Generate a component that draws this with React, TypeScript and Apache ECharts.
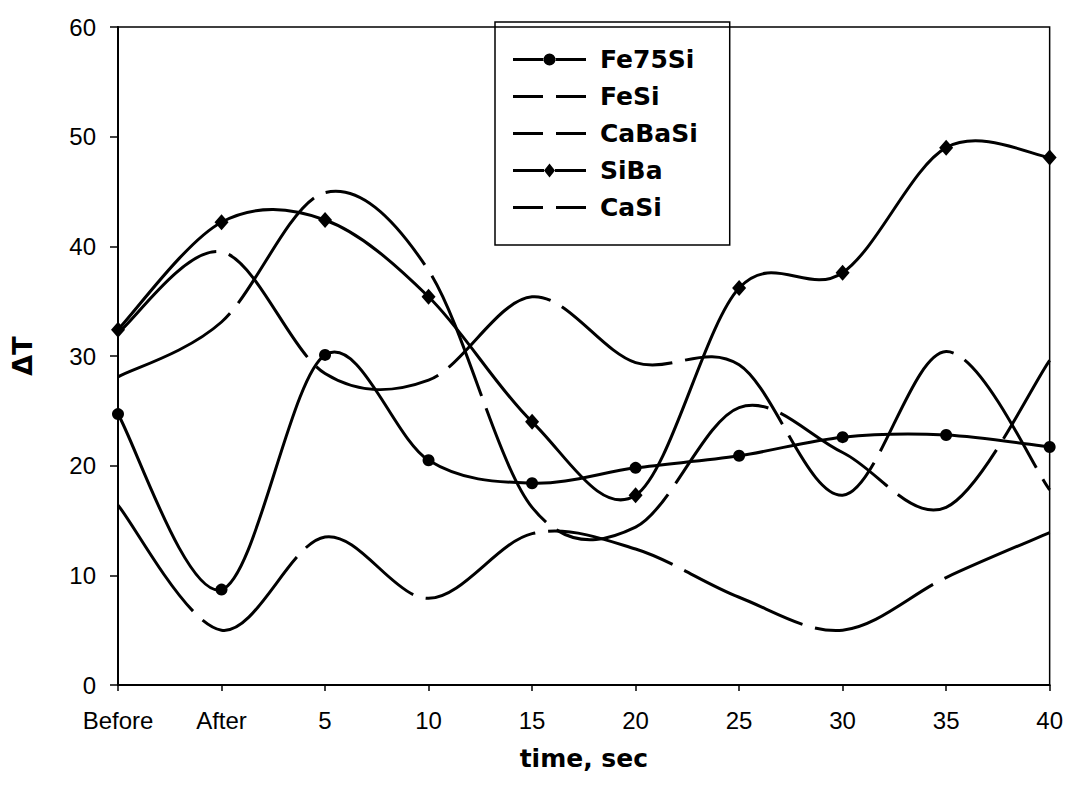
import React, { useEffect, useRef } from "react";
import * as echarts from "echarts";

const categories = ["Before", "After", "5", "10", "15", "20", "25", "30", "35", "40"];
const fe75si = [24.7, 8.7, 30.1, 20.5, 18.4, 19.8, 20.9, 22.6, 22.8, 21.7];
const fesi = [32.1, 39.5, 28.4, 27.8, 35.4, 29.4, 29.2, 17.3, 30.4, 17.8];
const cabasi = [28.1, 33.1, 44.9, 37.8, 16.2, 14.4, 25.3, 21.2, 16.2, 29.6];
const siba = [32.4, 42.2, 42.4, 35.4, 24.0, 17.3, 36.2, 37.6, 49.0, 48.1];
const casi = [16.4, 5.0, 13.5, 7.9, 13.8, 12.4, 8.0, 5.0, 9.8, 13.9];
const yTicks = { min: 0, max: 60, interval: 10 };

const ICON_DASH = "path://M0 0H30V3H0Z M43 0H73V3H43Z";
const ICON_CIRCLE =
  "path://M0 5.5H31V8.5H0Z M42 5.5H73V8.5H42Z M30.5 7A6 6 0 1 0 42.5 7A6 6 0 1 0 30.5 7Z";
const ICON_DIAMOND =
  "path://M0 5.5H31V8.5H0Z M42 5.5H73V8.5H42Z M36.5 0L42 7L36.5 14L31 7Z";

export default function App() {
  const ref = useRef<HTMLDivElement>(null);
  useEffect(() => {
    if (!ref.current) return;
    const chart = echarts.init(ref.current, null, { renderer: "svg" });
    const black = "#000";

    // Catmull-Rom style smooth curve drawn through the data points via the axis scales
    const curve = (data: number[], dashed: boolean) => ({
      type: "custom",
      data: data.map((v, i) => [i, v]),
      encode: { x: 0, y: 1 },
      silent: true,
      z: 2,
      renderItem: (params: any, api: any) => {
        if (params.dataIndex !== 0) return null;
        const pts = data.map((v, i) => api.coord([i, v]));
        const n = pts.length;
        let d = `M${pts[0][0]} ${pts[0][1]}`;
        for (let i = 0; i < n - 1; i++) {
          const p0 = pts[Math.max(i - 1, 0)];
          const p1 = pts[i];
          const p2 = pts[i + 1];
          const p3 = pts[Math.min(i + 2, n - 1)];
          const c1x = p1[0] + (p2[0] - p0[0]) / 6;
          const c1y = p1[1] + (p2[1] - p0[1]) / 6;
          const c2x = p2[0] - (p3[0] - p1[0]) / 6;
          const c2y = p2[1] - (p3[1] - p1[1]) / 6;
          d += ` C${c1x} ${c1y} ${c2x} ${c2y} ${p2[0]} ${p2[1]}`;
        }
        return {
          type: "path",
          shape: { pathData: d },
          style: {
            fill: "none",
            stroke: black,
            lineWidth: 3,
            lineDash: dashed ? [130, 13] : null,
          },
        };
      },
    });

    const marks = (name: string, data: number[], symbol: string, size: any) => ({
      name,
      type: "line",
      data,
      symbol,
      symbolSize: size,
      showSymbol: symbol !== "none",
      z: 3,
      lineStyle: { color: black, width: 0, opacity: 0 },
      itemStyle: { color: black, borderWidth: 0 },
    });

    chart.setOption({
      animation: false,
      backgroundColor: "#fff",
      grid: {
        left: 118,
        right: 16,
        top: 27,
        bottom: 100,
        show: true,
        borderColor: black,
        borderWidth: 1.5,
        backgroundColor: "transparent",
      },
      legend: {
        orient: "vertical",
        left: 495,
        top: 22,
        padding: [25, 32, 25, 18],
        itemWidth: 73,
        itemHeight: 14,
        itemGap: 12,
        borderColor: black,
        borderWidth: 1.5,
        textStyle: {
          color: black,
          fontFamily: "DejaVu Sans",
          fontWeight: "bold",
          fontSize: 25,
          padding: [0, 0, 0, 9],
        },
        data: [
          { name: "Fe75Si", icon: ICON_CIRCLE },
          { name: "FeSi", icon: ICON_DASH },
          { name: "CaBaSi", icon: ICON_DASH },
          { name: "SiBa", icon: ICON_DIAMOND },
          { name: "CaSi", icon: ICON_DASH },
        ],
      },
      xAxis: {
        type: "category",
        data: categories,
        boundaryGap: false,
        axisLine: { lineStyle: { color: black, width: 2 } },
        axisTick: { show: true, inside: false, length: 6, lineStyle: { color: black, width: 1.5 } },
        axisLabel: {
          color: black,
          fontFamily: "Liberation Sans",
          fontSize: 24,
          margin: 23,
        },
        name: "time, sec",
        nameLocation: "middle",
        nameGap: 61,
        nameTextStyle: {
          color: black,
          fontFamily: "DejaVu Sans",
          fontWeight: "bold",
          fontSize: 25,
        },
        splitLine: { show: false },
      },
      yAxis: {
        type: "value",
        min: yTicks.min,
        max: yTicks.max,
        interval: yTicks.interval,
        axisLine: { show: true, lineStyle: { color: black, width: 2 } },
        axisTick: { show: true, inside: false, length: 8, lineStyle: { color: black, width: 1.5 } },
        axisLabel: {
          color: black,
          fontFamily: "Liberation Sans",
          fontSize: 24,
          margin: 22,
        },
        splitLine: { show: false },
        name: "ΔT",
        nameLocation: "middle",
        nameGap: 82,
        nameTextStyle: {
          color: black,
          fontFamily: "DejaVu Sans",
          fontWeight: "bold",
          fontSize: 27,
        },
      },
      series: [
        curve(fe75si, false),
        curve(fesi, true),
        curve(cabasi, true),
        curve(siba, false),
        curve(casi, true),
        marks("Fe75Si", fe75si, "circle", 12),
        marks("FeSi", fesi, "none", 0),
        marks("CaBaSi", cabasi, "none", 0),
        marks("SiBa", siba, "diamond", [14, 16]),
        marks("CaSi", casi, "none", 0),
      ],
    });
    return () => chart.dispose();
  }, []);
  return (
    <div
      ref={ref}
      style={{ position: "fixed", left: 0, top: 0, width: 1066, height: 785, background: "#fff" }}
    />
  );
}
